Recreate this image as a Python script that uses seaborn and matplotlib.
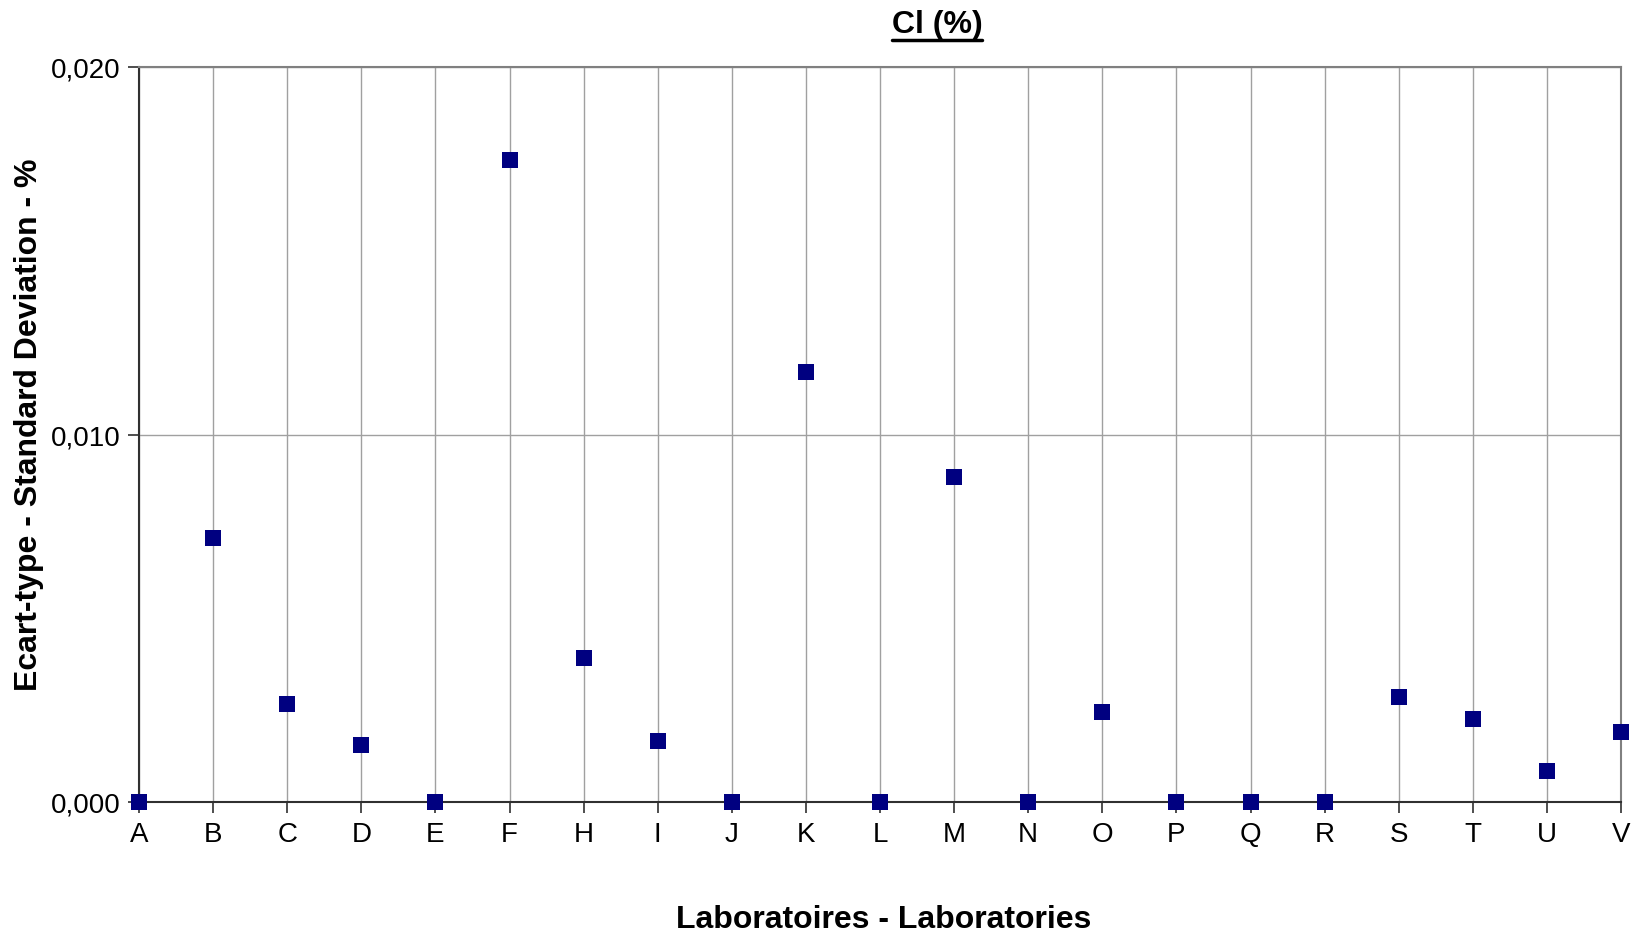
import matplotlib
matplotlib.use("Agg")
import matplotlib.pyplot as plt
from matplotlib.lines import Line2D
from matplotlib.ticker import FuncFormatter
import pandas as pd
import seaborn as sns

labs = ["A", "B", "C", "D", "E", "F", "H", "I", "J", "K", "L",
        "M", "N", "O", "P", "Q", "R", "S", "T", "U", "V"]
sd = [0.0, 0.00719, 0.00267, 0.00156, 0.0, 0.01747, 0.00392, 0.00165, 0.0, 0.0117, 0.0,
      0.00884, 0.0, 0.00244, 0.0, 0.0, 0.0, 0.00287, 0.00227, 0.00085, 0.0019]

df = pd.DataFrame({"pos": range(len(labs)), "sd": sd})

sns.set_style("white")
plt.rcParams["font.family"] = ["Liberation Sans", "DejaVu Sans"]
plt.rcParams["text.color"] = "black"
plt.rcParams["xtick.color"] = "black"
plt.rcParams["ytick.color"] = "black"

W, H = 1637, 937
fig = plt.figure(figsize=(W / 100, H / 100), dpi=100)
ax = fig.add_axes([139 / W, 1 - 803 / H, (1621 - 139) / W, (803 - 68) / H])

sns.scatterplot(data=df, x="pos", y="sd", marker="s", s=125, color="#000080",
                edgecolor="#000080", linewidth=0, ax=ax, zorder=5, clip_on=False)

ax.set_xlim(0, len(labs) - 1)
ax.set_ylim(0, 0.020)
ax.set_xticks(range(len(labs)))
ax.set_xticklabels(labs)
ax.set_yticks([0, 0.010, 0.020])
ax.yaxis.set_major_formatter(FuncFormatter(lambda v, p: f"{v:.3f}".replace(".", ",")))

ax.grid(True, color="#a0a0a0", linewidth=1.0)
ax.set_axisbelow(True)
for s in ["top", "right"]:
    ax.spines[s].set_color("#808080")
    ax.spines[s].set_linewidth(1.5)
for s in ["left", "bottom"]:
    ax.spines[s].set_color("#303030")
    ax.spines[s].set_linewidth(1.5)

ax.tick_params(axis="both", direction="out", length=8, width=1.2, color="#303030",
               labelsize=20, bottom=True, left=True)
ax.tick_params(axis="y", pad=5)
ax.tick_params(axis="x", pad=6)
ax.set_xlabel("")
ax.set_ylabel("")

fig.text(29 / W, 1 - 425 / H, "Ecart-type - Standard Deviation - %", rotation=90,
         ha="center", va="center", fontsize=23, fontweight="bold")
fig.text(884 / W, 1 - 920 / H, "Laboratoires - Laboratories",
         ha="center", va="center", fontsize=23, fontweight="bold")
title = fig.text(937 / W, 1 - 25 / H, "Cl (%)", ha="center", va="center",
                 fontsize=23, fontweight="bold")

# underline the title
fig.canvas.draw()
bb = title.get_window_extent().transformed(fig.transFigure.inverted())
yline = bb.y0 - 1 / H
fig.add_artist(Line2D([bb.x0, bb.x1], [yline, yline], transform=fig.transFigure,
                      color="black", linewidth=2.5))

fig.savefig("out.png", dpi=100)
